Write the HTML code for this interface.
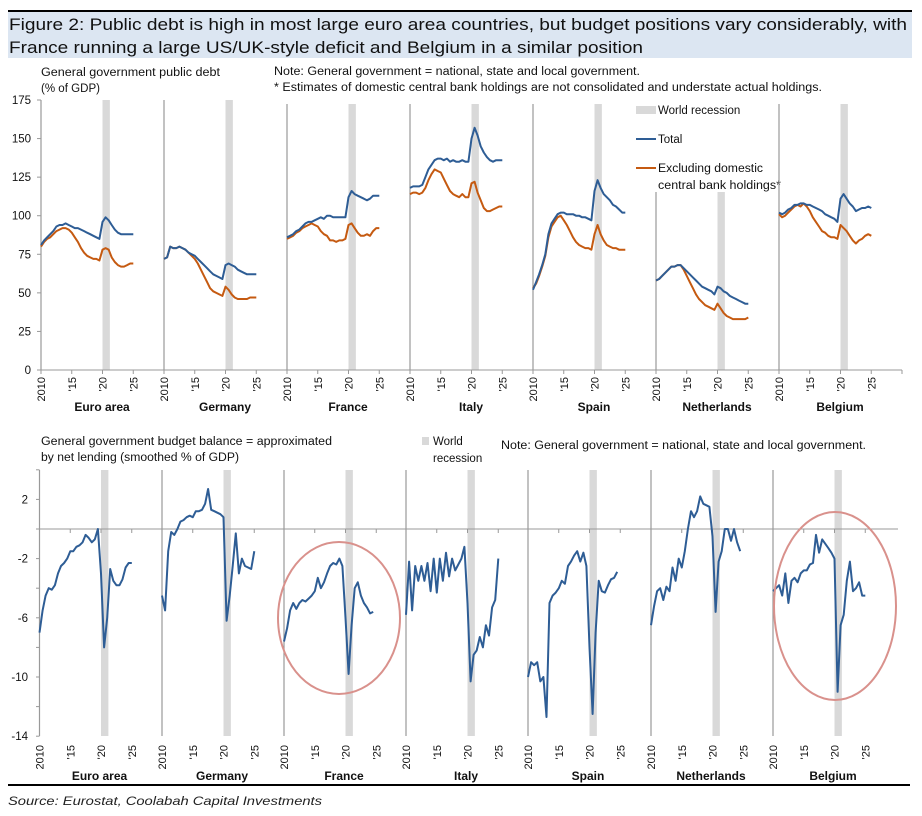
<!DOCTYPE html>
<html><head><meta charset="utf-8">
<style>
body{margin:0;background:#fff;}
svg{display:block;font-family:"Liberation Sans",sans-serif;}
</style></head>
<body>
<svg id="chart" width="922" height="816" viewBox="0 0 922 816" xmlns="http://www.w3.org/2000/svg">
<rect x="8" y="12" width="904" height="46" fill="#dce6f2"/>
<line x1="8" y1="11" x2="912" y2="11" stroke="#000" stroke-width="2"/>
<text x="9" y="30" font-size="17" fill="#111" textLength="898" lengthAdjust="spacingAndGlyphs">Figure 2: Public debt is high in most large euro area countries, but budget positions vary considerably, with</text>
<text x="9" y="53" font-size="17" fill="#111" textLength="634" lengthAdjust="spacingAndGlyphs">France running a large US/UK-style deficit and Belgium in a similar position</text>

<text x="41" y="76" font-size="11.5" fill="#111" textLength="179" lengthAdjust="spacingAndGlyphs">General government public debt</text>
<text x="41" y="92" font-size="11.5" fill="#111" textLength="59" lengthAdjust="spacingAndGlyphs">(% of GDP)</text>
<text x="274" y="75" font-size="11.5" fill="#111" textLength="366" lengthAdjust="spacingAndGlyphs">Note: General government = national, state and local government.</text>
<text x="274" y="91" font-size="11.5" fill="#111" textLength="548" lengthAdjust="spacingAndGlyphs">* Estimates of domestic central bank holdings are not consolidated and understate actual  holdings.</text>

<g>
<rect x="636" y="106" width="20" height="8" fill="#d9d9d9"/>
<text x="658" y="114" font-size="11.5" fill="#111">World recession</text>
<line x1="636" y1="139" x2="656" y2="139" stroke="#2e5d95" stroke-width="2"/>
<text x="658" y="143" font-size="11.5" fill="#111">Total</text>
<line x1="636" y1="168" x2="656" y2="168" stroke="#c55a11" stroke-width="2"/>
<text x="658" y="172" font-size="11.5" fill="#111" textLength="105" lengthAdjust="spacingAndGlyphs">Excluding domestic</text>
<text x="658" y="189" font-size="11.5" fill="#111" textLength="123" lengthAdjust="spacingAndGlyphs">central bank holdings*</text>
</g>

<text x="41" y="445" font-size="11.5" fill="#111" textLength="291" lengthAdjust="spacingAndGlyphs">General government budget balance = approximated</text>
<text x="41" y="461" font-size="11.5" fill="#111" textLength="198" lengthAdjust="spacingAndGlyphs">by net lending (smoothed % of GDP)</text>
<rect x="422" y="437" width="7" height="8" fill="#d9d9d9"/>
<text x="433" y="445" font-size="11.5" fill="#111">World</text>
<text x="433" y="462" font-size="11.5" fill="#111">recession</text>
<text x="501" y="449" font-size="11.5" fill="#111" textLength="365" lengthAdjust="spacingAndGlyphs">Note: General government = national, state and local government.</text>

<line x1="8" y1="785" x2="910" y2="785" stroke="#000" stroke-width="2"/>
<text x="8" y="805" font-size="12" font-style="italic" fill="#222" textLength="314" lengthAdjust="spacingAndGlyphs">Source: Eurostat, Coolabah Capital Investments</text>
<g id="plots"></g>
</svg>
<script>
const countries = ["Euro area","Germany","France","Italy","Spain","Netherlands","Belgium"];
const years = [2010,2010.5,2011,2011.5,2012,2012.5,2013,2013.5,2014,2014.5,2015,2015.5,2016,2016.5,2017,2017.5,2018,2018.5,2019,2019.5,2020,2020.5,2021,2021.5,2022,2022.5,2023,2023.5,2024,2024.5,2025];
const recession = [2020,2021.2];
const debtTicks = [0,25,50,75,100,125,150,175];
const balTicks = [2,-2,-6,-10,-14];
const yearTicks = [2010,2015,2020,2025];
const yearLabels = ["2010","'15","'20","'25"];

const debtTotal = [
[81,84,86,88,90,93,94,94,95,94,93,92,92,91,90,89,88,87,86,85,96,99,97,94,91,89,88,88,88,88,88],
[72,73,80,79,79,80,79,78,76,75,74,72,70,68,66,64,62,61,60,59,68,69,68,67,65,64,63,62,62,62,62],
[86,87,88,90,91,93,95,96,96,97,98,99,98,100,100,99,99,99,99,99,112,116,114,113,112,111,110,111,113,113,113],
[118,119,119,119,120,125,130,133,136,137,137,136,137,135,136,135,135,136,135,135,150,157,152,145,141,138,136,135,136,136,136],
[52,57,62,68,75,88,95,98,101,102,102,101,101,101,100,100,99,99,98,97,116,123,118,114,112,110,107,106,104,102,102],
[58,59,61,63,65,67,67,68,68,66,64,62,60,58,56,54,53,52,51,49,54,53,51,50,48,47,46,45,44,43,43],
[102,101,102,104,105,107,107,108,108,107,107,106,105,104,103,101,100,99,98,96,111,114,111,108,106,103,104,105,105,106,105]];
const debtExcl = [
[80,83,85,86,88,90,91,92,92,91,89,86,83,79,76,74,73,72,72,71,78,79,78,73,70,68,67,67,68,69,69],
[72,73,80,79,79,80,79,78,76,74,72,69,65,61,57,53,51,50,49,48,54,52,49,47,46,46,46,46,47,47,47],
[85,86,87,89,90,92,93,94,95,94,93,90,88,87,84,84,83,84,84,85,94,95,92,89,87,87,88,87,90,92,92],
[114,115,115,114,115,118,123,127,130,129,128,124,120,116,114,113,112,114,112,112,121,122,115,110,105,103,103,104,105,106,106],
[53,56,61,67,74,86,93,96,99,100,97,94,90,86,83,81,80,79,79,78,88,94,88,84,81,80,79,79,78,78,78],
[58,59,61,63,65,67,67,68,68,65,61,57,53,49,46,44,42,41,40,39,43,40,37,35,34,33,33,33,33,33,34],
[101,99,100,102,104,106,107,106,108,106,103,99,96,93,90,89,87,86,86,85,94,92,90,87,84,82,84,85,87,88,87]];
const balance = [
[-7,-5.5,-4.5,-4,-4.1,-3.8,-3,-2.5,-2.3,-2,-1.5,-1.5,-1.2,-1.1,-0.9,-0.4,-0.6,-0.9,-0.7,0,-3,-8,-6,-2.7,-3.5,-3.8,-3.8,-3.4,-2.6,-2.3,-2.3],
[-4.5,-5.5,-1.5,-0.2,-0.4,0,0.5,0.6,0.8,0.9,0.8,1.2,1.2,1.3,1.7,2.7,1.3,1.2,1.1,1,0.8,-6.2,-4.5,-2.5,-0.3,-3,-2,-2.5,-2.6,-2.7,-1.5],
[-7.6,-6.7,-5.5,-5,-5.4,-5,-4.8,-4.9,-4.7,-4.5,-4.2,-3.3,-4,-3.6,-3,-2.5,-2.3,-2.4,-2,-2.5,-6,-9.8,-6.5,-4,-3.6,-4.5,-5,-5.3,-5.7,-5.6,null],
[-5.8,-2.2,-5.5,-2.5,-3.5,-2.5,-3.5,-2.3,-4.2,-2,-4.3,-2,-3.5,-1.6,-3.2,-2,-2.8,-2.4,-2,-1.2,-5,-10.3,-8.5,-8.2,-7.3,-8,-6.5,-7.2,-5.3,-4.8,-2],
[-10,-9,-9.2,-9,-10.3,-10,-12.7,-5,-4.5,-4.3,-4,-3.5,-3.7,-2.5,-2.2,-1.8,-1.5,-2.2,-1.6,-2.5,-8,-12.5,-7,-3.5,-4.2,-4.3,-3.8,-3.4,-3.3,-2.9,null],
[-6.5,-5.2,-4.2,-4,-4.8,-3.9,-4.2,-2.6,-3.5,-2,-2.6,-1.5,0,1.2,0.8,1.2,2.2,1.7,1.6,1.5,-0.5,-5.6,-2.2,-1.5,0,0,-0.8,0,-0.9,-1.5,null],
[-4.2,-4,-3.8,-4.5,-3,-5,-3.5,-3.3,-3.6,-3,-2.8,-2.8,-2.4,-2.3,-0.4,-1.6,-0.7,-1,-1.3,-1.6,-2,-11,-6.5,-5.8,-3.5,-2.2,-4.2,-4,-3.6,-4.5,-4.5]];

const NS="http://www.w3.org/2000/svg";
const root=document.getElementById('plots');
function mk(tag,attrs,parent){const e=document.createElementNS(NS,tag);for(const k in attrs)e.setAttribute(k,attrs[k]);(parent||root).appendChild(e);return e;}

const topPanelX0=[41,164,287,410,533,656,779];
const topSepTop=[100,100,104,104,104,192,104];
const botPanelX0=[39.5,162,284,406,528,651,773];
const pxYear=6.15;
const yDebt=v=>370-(v/175)*270;
const yBal=v=>529-v*14.8;

function drawPanelSet(x0s,sepTops,yTop,yBot,yZeroLine,isTop){
  const g=mk('g',{});
  
  
  countries.forEach((c,i)=>{
    const x0=x0s[i];
    const xs=t=>x0+(t-2010)*pxYear;
    const band=mk('rect',{x:xs(recession[0]),y:isTop?sepTops[i]:yTop,width:xs(recession[1])-xs(recession[0]),height:yBot-(isTop?sepTops[i]:yTop),fill:'#d9d9d9'},g);
    
    
    const sep=mk('line',{x1:x0,y1:isTop?sepTops[i]:yTop,x2:x0,y2:yBot,stroke:'#999','stroke-width':1.2},g);
    
    
    yearTicks.forEach((yr,k)=>{
      const x=xs(yr);
      const tk=mk('line',{x1:x,y1:yZeroLine,x2:x,y2:yZeroLine+4,stroke:'#999'},g);
      
      
      const ly=isTop?377:745;
      const t=mk('text',{x:0,y:0,'font-size':11,fill:'#111','text-anchor':'end',transform:`translate(${x+4},${ly}) rotate(-90)`},g);
      t.textContent=yearLabels[k];
      
      
    });
    const lab=mk('text',{x:x0+(isTop?61:60),y:isTop?411:780,'font-size':12,'font-weight':'bold','text-anchor':'middle',fill:'#111'},g);
    lab.textContent=c;
    
    
  });
  return g;
}
function pathFrom(vals,x0,yf){
  let d='';let pen=false;
  vals.forEach((v,j)=>{
    if(v===null){pen=false;return;}
    const x=x0+(years[j]-2010)*pxYear, y=yf(v);
    d+=(pen?'L':'M')+x.toFixed(1)+','+y.toFixed(1);pen=true;
  });
  return d;
}

const gt=drawPanelSet(topPanelX0,topSepTop,100,370,370,true);
const ax=mk('line',{x1:41,y1:370,x2:902,y2:370,stroke:'#999'},gt);


mk('line',{x1:902,y1:370,x2:902,y2:374,stroke:'#999'},gt);
debtTicks.forEach(v=>{
  const y=yDebt(v);
  const tk=mk('line',{x1:37,y1:y,x2:41,y2:y,stroke:'#999'},gt);
  
  
  const t=mk('text',{x:31,y:y+4,'font-size':11.5,'text-anchor':'end',fill:'#111'},gt);
  t.textContent=v;
  
  
});
countries.forEach((c,i)=>{
  const pe=mk('path',{d:pathFrom(debtExcl[i],topPanelX0[i],yDebt),fill:'none',stroke:'#c55a11','stroke-width':2,'stroke-linejoin':'round'},gt);
  
  
  const pt=mk('path',{d:pathFrom(debtTotal[i],topPanelX0[i],yDebt),fill:'none',stroke:'#2e5d95','stroke-width':2,'stroke-linejoin':'round'},gt);
  
  
});

const gb=drawPanelSet(botPanelX0,null,470,736,529,false);
const ax0=mk('line',{x1:39.5,y1:529,x2:898,y2:529,stroke:'#999'},gb);


const axy=mk('line',{x1:39.5,y1:470,x2:39.5,y2:736,stroke:'#999'},gb);


[4,2,0,-2,-4,-6,-8,-10,-12,-14].forEach(v=>{
  const tk=mk('line',{x1:36,y1:yBal(v),x2:39.5,y2:yBal(v),stroke:'#999'},gb);
  
  
});
balTicks.forEach(v=>{
  const t=mk('text',{x:28,y:yBal(v)+4,'font-size':11.5,'text-anchor':'end',fill:'#111'},gb);
  t.textContent=v;
  
  
});
countries.forEach((c,i)=>{
  const p=mk('path',{d:pathFrom(balance[i],botPanelX0[i],yBal),fill:'none',stroke:'#2e5d95','stroke-width':2,'stroke-linejoin':'round'},gb);
  
  
});
const e1=mk('ellipse',{cx:339,cy:618,rx:61,ry:76,fill:'none',stroke:'#d9918c','stroke-width':2});


const e2=mk('ellipse',{cx:835,cy:606,rx:61,ry:94,fill:'none',stroke:'#d9918c','stroke-width':2});


</script>
</body></html>
